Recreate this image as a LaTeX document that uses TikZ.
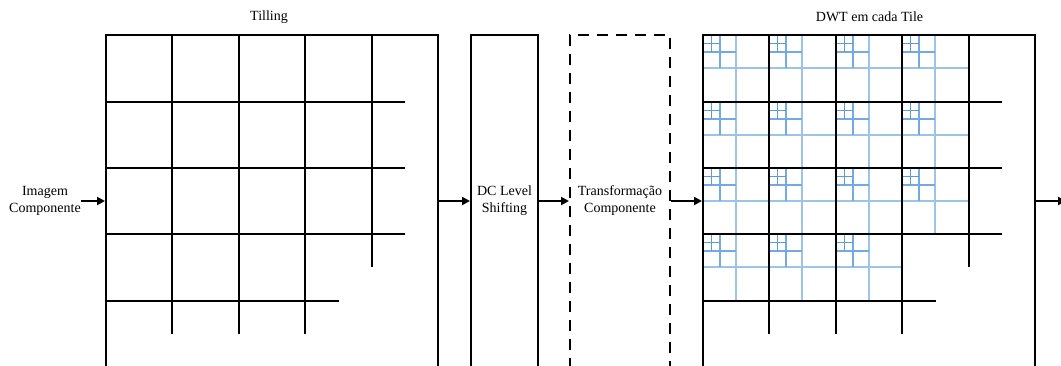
\documentclass[tikz,border=0pt]{standalone}
\usepackage{fontspec}
\setmainfont{Liberation Serif}
\usetikzlibrary{arrows.meta}
\definecolor{lvA}{HTML}{9DC3E6}
\definecolor{lvB}{HTML}{74AADF}
\definecolor{lvC}{HTML}{5B9BD5}
% #1..#5: x of the grid columns, #6 right end of long rows, #7 right end of last row
\newcommand\mygrid[7]{%
  \foreach \xx in {#2,#3,#4} {\draw[gridline] (\xx,35) -- (\xx,334);}
  \draw[gridline] (#5,35) -- (#5,267);
  \foreach \yy in {102,168,234} {\draw[gridline] (#1,\yy) -- (#6,\yy);}
  \draw[gridline] (#1,301) -- (#7,301);
}
\newcommand\dwttile[4]{% left, top, right, bottom
  \draw[lvone] ({#1+33},#2) -- ({#1+33},#4);
  \draw[lvone] (#1,{#2+33}) -- (#3,{#2+33});
  \draw[lvtwo] ({#1+17},#2) -- ({#1+17},{#2+33});
  \draw[lvtwo] (#1,{#2+17}) -- ({#1+33},{#2+17});
  \draw[lvthree] ({#1+8.5},#2) -- ({#1+8.5},{#2+17});
  \draw[lvthree] (#1,{#2+8.5}) -- ({#1+17},{#2+8.5});
}
\begin{document}
\begin{tikzpicture}[x=1pt,y=-1pt,
  gridline/.style={draw=black, line width=2pt},
  lvone/.style={draw=lvA, line width=2pt},
  lvtwo/.style={draw=lvB, line width=1.5pt},
  lvthree/.style={draw=lvC, line width=1pt},
  frame/.style={draw=black, line width=2pt, minimum width=#1, minimum height=332pt,
    inner sep=0pt, align=center, anchor=center, font=\fontsize{14}{17}\selectfont},
  label/.style={inner sep=0pt, align=center, font=\fontsize{14}{17}\selectfont},
  arr/.style={draw=black, line width=2pt, -{Triangle[length=8pt,width=8pt]}}
]
\useasboundingbox (0,0) rectangle (1061,365);
\clip (0,0) rectangle (1061,365);
% DWT subband lines
\foreach \ty/\ny in {35/102,102/168,168/234} {
  \foreach \tx/\nx in {703/769,769/836,836/902,902/969} {
    \dwttile{\tx}{\ty}{\nx}{\ny}
  }
}
\foreach \tx/\nx in {703/769,769/836,836/902} {
  \dwttile{\tx}{234}{\nx}{301}
}
% tile grids
\mygrid{106}{172}{239}{305}{372}{405}{339}
\mygrid{703}{769}{836}{902}{969}{1002}{936}
% frames
\node[frame=332pt] (tile) at (272,201) {};
\node[frame=67pt] (dc) at (504.5,201) {DC Level\\Shifting};
\node[frame=100pt, dash pattern=on 11pt off 8pt] (tc) at (620,201) {Transforma\c{c}\~ao\\Componente};
\node[frame=332pt] (dwt) at (869,201) {};
% labels
\node[label] (in) at (45,201) {Imagem\\Componente};
\node[label] (t1) at (269,17) {Tilling};
\node[label] (t2) at (869.5,17) {DWT em cada Tile};
\coordinate (out) at (1066,201);
% connectors
\draw[arr] (in.east) -- (tile.west);
\draw[arr] (tile.east) -- (dc.west);
\draw[arr] (dc.east) -- (tc.west);
\draw[arr] (tc.east) -- (dwt.west);
\draw[arr] (dwt.east) -- (out);
\end{tikzpicture}
\end{document}
